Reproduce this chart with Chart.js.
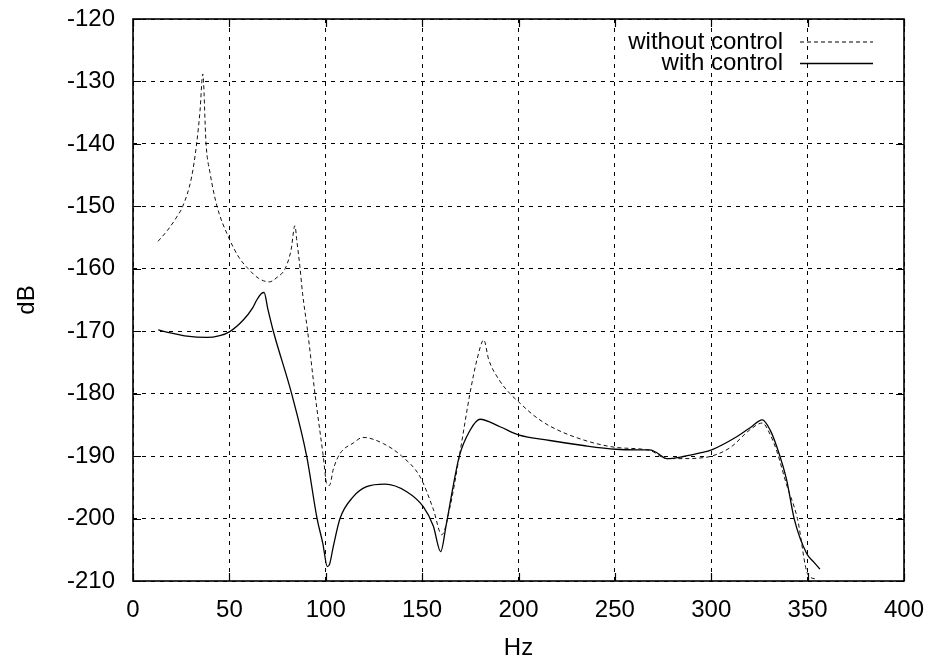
<!DOCTYPE html>
<html>
<head>
<meta charset="utf-8">
<script src="https://cdn.jsdelivr.net/npm/chart.js@4.4.1/dist/chart.umd.min.js"></script>
<style>
  html, body { margin: 0; padding: 0; background: #fff; }
  #wrap { width: 928px; height: 664px; }
</style>
</head>
<body>
<div id="wrap"><canvas id="chart" width="928" height="664"></canvas></div>
<script>
// (Hz / dB)
const hzWithout = [13, 18, 22.7, 25.8, 30.4, 33, 34.8, 36.2, 37.9, 40, 43.6, 49.5, 55, 59.8, 65, 70.7, 75, 78.9,
    82, 84, 85, 86.6, 88, 90.6, 94.4, 98.7, 100.5, 101.9, 104, 107.4, 114.3, 119.3, 129.9, 139.4, 148.9, 155.8,
    160.2, 164.5, 169.3, 174.8, 178.5, 182, 184.5, 190.4, 195.6, 200, 208, 216.3, 233.6, 250.4, 268.2, 276.9, 285.5,
    294.2, 300.2, 310, 320, 326.5, 330.5, 334, 339, 344.7, 350.2, 354.7];
const dbWithout = [-155.6, -153.8, -151.7, -150, -145.3, -140, -134.6, -128.8, -140, -144.7, -150, -154.9, -158.2, -160, -161.5, -162.1, -161.3, -160,
    -157, -153.1, -155.5, -159.7, -164, -170, -180, -190, -194.4, -194.7, -192, -189.6, -187.9, -187, -188, -190, -193.3, -198.5,
    -202.6, -198.1, -190, -180, -174.5, -171.4, -174.5, -178, -180, -181.3, -183.5, -185.2, -187.4, -188.6, -189.1, -190.4, -190.4,
    -190.3, -190.0, -188.6, -185.8, -184.7, -186.5, -189.2, -194.5, -200, -209, -209.7];

const hzWith = [13.1, 20, 28, 38.2, 45, 50, 57.2, 62, 64.2, 66.5, 68, 70, 72.8, 82.3, 90.1, 95.5, 98.5,
    100.8, 102, 103.9, 107.4, 114.3, 121.2, 130.7, 142, 150.6, 155.8, 159.6, 162.5, 166, 169.3, 174.8, 180, 190.4,
    200, 216.3, 233.6, 250.4, 262, 268.2, 272, 276.9, 285, 294.2, 300.2, 313.2, 320, 326.5, 330.5, 334, 339.1, 343,
    349.5, 353, 356.4];
const dbWith = [-169.8, -170.3, -170.8, -171, -170.7, -170.1, -168.2, -166.3, -165, -164, -163.8, -166.5, -170, -180, -190, -200, -204,
    -207.7, -207.3, -204.5, -200, -196.5, -194.9, -194.5, -195.7, -198.1, -201.2, -205.3, -201, -195, -190, -185.9, -184.1, -185.3,
    -186.6, -187.5, -188.3, -188.9, -189.0, -189.0, -189.5, -190.4, -190.1, -189.5, -189, -186.9, -185.5, -184.2, -185.8, -188.5, -193.8, -200,
    -205.6, -206.9, -208.1];

const xTicks = [0, 50, 100, 150, 200, 250, 300, 350, 400];
const yTicks = [-120, -130, -140, -150, -160, -170, -180, -190, -200, -210];
const seriesNames = ['without control', 'with control'];

const FONT = 'Liberation Sans, Arial, Helvetica, sans-serif';

const toPoints = (xs, ys) => xs.map((x, i) => ({ x, y: ys[i] }));

// gnuplot-style frame: box, inward tick marks and the legend in the top right
const framePlugin = {
    id: 'frame',
    afterDatasetsDraw(chart) {
        const { ctx, chartArea: a, scales: { x, y } } = chart;
        ctx.save();
        ctx.strokeStyle = '#000';
        ctx.lineWidth = 1.2;
        ctx.setLineDash([]);
        ctx.beginPath();
        xTicks.forEach(v => {
            const px = Math.round(x.getPixelForValue(v)) + 0.5;
            ctx.moveTo(px, a.bottom); ctx.lineTo(px, a.bottom - 8);
            ctx.moveTo(px, a.top); ctx.lineTo(px, a.top + 8);
        });
        yTicks.forEach(v => {
            const py = Math.round(y.getPixelForValue(v)) + 0.5;
            ctx.moveTo(a.left, py); ctx.lineTo(a.left + 8, py);
            ctx.moveTo(a.right, py); ctx.lineTo(a.right - 8, py);
        });
        ctx.stroke();
        ctx.lineWidth = 1.6;
        ctx.strokeRect(a.left, a.top, a.right - a.left, a.bottom - a.top);

        // legend
        ctx.font = '24px ' + FONT;
        ctx.fillStyle = '#000';
        ctx.textAlign = 'right';
        ctx.textBaseline = 'middle';
        chart.data.datasets.forEach((ds, i) => {
            const ly = a.top + 23 + i * 21.5;
            ctx.fillText(ds.label, a.right - 121, ly);
            ctx.lineWidth = ds.borderWidth;
            ctx.setLineDash(ds.borderDash || []);
            ctx.beginPath();
            ctx.moveTo(a.right - 104, ly);
            ctx.lineTo(a.right - 31, ly);
            ctx.stroke();
        });
        ctx.restore();
    }
};

new Chart(document.getElementById('chart'), {
    type: 'line',
    data: {
        datasets: [
            {
                label: seriesNames[0],
                data: toPoints(hzWithout, dbWithout),
                borderColor: '#111',
                borderWidth: 1,
                borderDash: [4, 3],
                pointRadius: 0,
                cubicInterpolationMode: 'monotone'
            },
            {
                label: seriesNames[1],
                data: toPoints(hzWith, dbWith),
                borderColor: '#000',
                borderWidth: 1.3,
                pointRadius: 0,
                cubicInterpolationMode: 'monotone'
            }
        ]
    },
    options: {
        responsive: false,
        animation: false,
        devicePixelRatio: 1,
        layout: { padding: { top: 19, right: 24, left: 0, bottom: 0 } },
        plugins: {
            legend: { display: false },
            tooltip: { enabled: false }
        },
        scales: {
            x: {
                type: 'linear',
                min: 0,
                max: 400,
                afterFit: (scale) => {
                    scale.height = 83;
                    scale.paddingLeft = 0;
                    scale.paddingRight = 0;
                },
                afterBuildTicks: (scale) => { scale.ticks = xTicks.map(value => ({ value })); },
                grid: { color: '#000', lineWidth: 1, drawTicks: false },
                border: { display: false, dash: [4, 5] },
                ticks: { color: '#000', font: { family: FONT, size: 24 }, padding: 15, maxRotation: 0 },
                title: { display: true, text: 'Hz', color: '#000', font: { family: FONT, size: 24 }, padding: { bottom: 1 } }
            },
            y: {
                type: 'linear',
                min: -210,
                max: -120,
                afterFit: (scale) => {
                    scale.width = 133;
                    scale.paddingTop = 0;
                    scale.paddingBottom = 0;
                },
                afterBuildTicks: (scale) => { scale.ticks = yTicks.map(value => ({ value })); },
                grid: { color: '#000', lineWidth: 1, drawTicks: false },
                border: { display: false, dash: [4, 5] },
                ticks: { color: '#000', font: { family: FONT, size: 24 }, padding: 18 },
                title: { display: true, text: 'dB', color: '#000', font: { family: FONT, size: 24 }, padding: { top: 13 } }
            }
        }
    },
    plugins: [framePlugin]
});
</script>
</body>
</html>
